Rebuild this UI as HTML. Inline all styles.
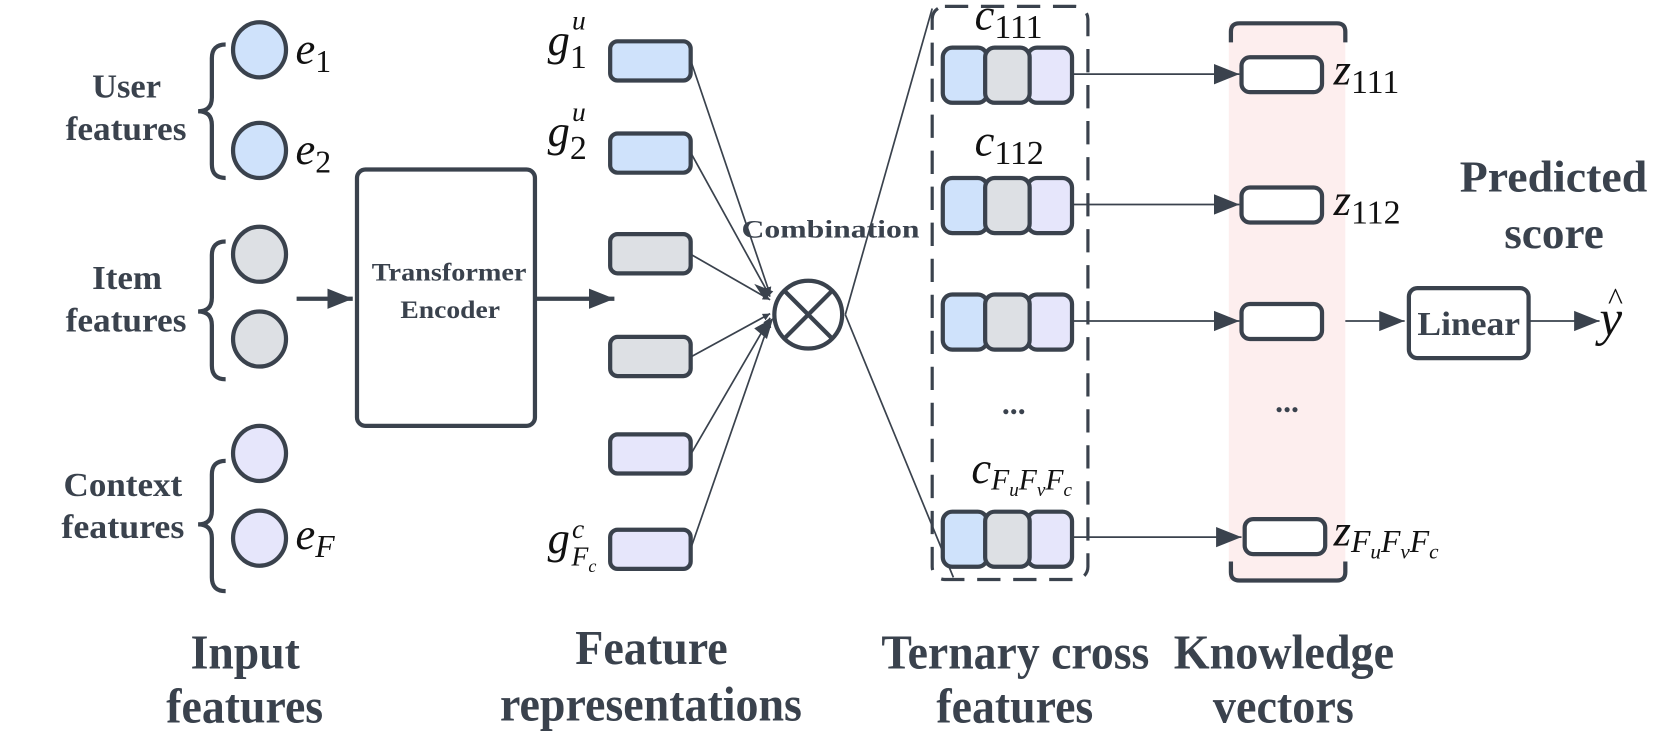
<!DOCTYPE html>
<html><head><meta charset="utf-8"><style>
html,body{margin:0;padding:0;background:#fff;}
svg{display:block;}
.t{font-family:"Liberation Serif",serif;font-weight:bold;fill:#3a424d;}
.m{font-family:"Liberation Serif",serif;font-style:italic;fill:#111;}
.s{font-family:"Liberation Serif",serif;fill:#111;}
</style></head><body>
<svg width="1661" height="749" viewBox="0 0 1568 707" preserveAspectRatio="none" xmlns="http://www.w3.org/2000/svg">
<defs>
<marker id="a" viewBox="0 0 10 10" refX="10" refY="5" markerWidth="7" markerHeight="7" markerUnits="userSpaceOnUse" orient="auto"><path d="M0,0L10,5L0,10z" fill="#3a424d"/></marker>
<marker id="b" viewBox="0 0 10 10" refX="10" refY="5" markerWidth="24" markerHeight="24" markerUnits="userSpaceOnUse" orient="auto"><path d="M0,1L10,5L0,9z" fill="#3a424d"/></marker>
</defs>
<g stroke="#3a424d" stroke-width="4" fill="none">
<rect x="1160" y="22" width="110" height="526" fill="#fdeeee" stroke="none"/>
<path d="M1162,40V30q0,-8 8,-8H1262q8,0 8,8V40"/>
<path d="M1162,530V540q0,8 8,8H1262q8,0 8,-8V530"/>
<ellipse cx="245" cy="47" rx="25" ry="26" fill="#cfe2fb"/>
<ellipse cx="245" cy="142" rx="25" ry="26" fill="#cfe2fb"/>
<ellipse cx="245" cy="240" rx="25" ry="26" fill="#dde0e4"/>
<ellipse cx="245" cy="320" rx="25" ry="26" fill="#dde0e4"/>
<ellipse cx="245" cy="428" rx="25" ry="26" fill="#e6e6fb"/>
<ellipse cx="245" cy="508" rx="25" ry="26" fill="#e6e6fb"/>
<path d="M213,42Q200,42 200,55V92Q200,105 187,105Q200,105 200,118V155Q200,168 213,168"/>
<path d="M213,228Q200,228 200,241V281Q200,294 187,294Q200,294 200,307V345Q200,358 213,358"/>
<path d="M213,435Q200,435 200,448V482Q200,495 187,495Q200,495 200,508V545Q200,558 213,558"/>
<rect x="337" y="160" width="168" height="242" rx="8" fill="#fff"/>
<line x1="280" y1="282" x2="333" y2="282" marker-end="url(#b)"/>
<line x1="505" y1="282" x2="580" y2="282" marker-end="url(#b)"/>
<rect x="576" y="39" width="76" height="37" rx="7" fill="#cfe2fb"/>
<rect x="576" y="126" width="76" height="37" rx="7" fill="#cfe2fb"/>
<rect x="576" y="221" width="76" height="37" rx="7" fill="#dde0e4"/>
<rect x="576" y="318" width="76" height="37" rx="7" fill="#dde0e4"/>
<rect x="576" y="410" width="76" height="37" rx="7" fill="#e6e6fb"/>
<rect x="576" y="500" width="76" height="37" rx="7" fill="#e6e6fb"/>
</g>
<g stroke="#3a424d" stroke-width="1.6" fill="none">
<line x1="652" y1="57" x2="727" y2="278" marker-end="url(#a)"/>
<line x1="652" y1="144" x2="727" y2="280" marker-end="url(#a)"/>
<line x1="652" y1="240" x2="727" y2="283" marker-end="url(#a)"/>
<line x1="652" y1="337" x2="727" y2="296" marker-end="url(#a)"/>
<line x1="652" y1="429" x2="727" y2="300" marker-end="url(#a)"/>
<line x1="652" y1="518" x2="727" y2="302" marker-end="url(#a)"/>
<line x1="798" y1="297" x2="880" y2="8"/>
<line x1="798" y1="297" x2="900" y2="545"/>
</g>
<g stroke="#3a424d" stroke-width="4" fill="none">
<polygon points="712,268 730,275 722,283" fill="#3a424d" stroke="none"/>
<polygon points="712,310 730,300 724,320" fill="#3a424d" stroke="none"/>
<circle cx="763" cy="297" r="32" fill="#fff"/>
<line x1="740" y1="274" x2="786" y2="320"/>
<line x1="786" y1="274" x2="740" y2="320"/>
<rect x="880" y="6" width="147" height="541" rx="12" stroke-dasharray="22,12" stroke-width="3"/>
</g>
<g stroke="#3a424d" stroke-width="4">
<g id="tr">
<rect x="890" y="45" width="42" height="52" rx="9" fill="#cfe2fb"/>
<rect x="970" y="45" width="42" height="52" rx="9" fill="#e6e6fb"/>
<rect x="930" y="45" width="42" height="52" rx="9" fill="#dde0e4"/>
</g>
<use href="#tr" y="123"/>
<use href="#tr" y="233"/>
<use href="#tr" y="438"/>
</g>
<g stroke="#3a424d" stroke-width="1.6">
<line x1="1012" y1="70" x2="1170" y2="70" marker-end="url(#b)"/>
<line x1="1012" y1="193" x2="1170" y2="193" marker-end="url(#b)"/>
<line x1="1012" y1="303" x2="1170" y2="303" marker-end="url(#b)"/>
<line x1="1012" y1="507" x2="1172" y2="507" marker-end="url(#b)"/>
<line x1="1270" y1="303" x2="1326" y2="303" marker-end="url(#b)"/>
<line x1="1443" y1="303" x2="1510" y2="303" marker-end="url(#b)"/>
</g>
<g stroke="#3a424d" stroke-width="4" fill="#fff">
<rect x="1172" y="54" width="76" height="33" rx="8"/>
<rect x="1172" y="177" width="76" height="33" rx="8"/>
<rect x="1172" y="287" width="76" height="33" rx="8"/>
<rect x="1175" y="490" width="76" height="33" rx="8"/>
<rect x="1330" y="272" width="113" height="66" rx="8"/>
</g>
<g class="t" font-size="32">
<text x="87" y="92" textLength="65" lengthAdjust="spacingAndGlyphs">User</text>
<text x="62" y="132" textLength="114" lengthAdjust="spacingAndGlyphs">features</text>
<text x="87" y="273" textLength="66" lengthAdjust="spacingAndGlyphs">Item</text>
<text x="62" y="313" textLength="114" lengthAdjust="spacingAndGlyphs">features</text>
<text x="60" y="468" textLength="112" lengthAdjust="spacingAndGlyphs">Context</text>
<text x="58" y="508" textLength="116" lengthAdjust="spacingAndGlyphs">features</text>
</g>
<g class="t" font-size="24">
<text x="351" y="265" textLength="146" lengthAdjust="spacingAndGlyphs">Transformer</text>
<text x="378" y="300" textLength="94" lengthAdjust="spacingAndGlyphs">Encoder</text>
<text x="700" y="224" textLength="168" lengthAdjust="spacingAndGlyphs">Combination</text>
</g>
<text class="t" font-size="32" x="1338" y="316" textLength="97" lengthAdjust="spacingAndGlyphs">Linear</text>
<g class="t" font-size="42">
<text x="1378" y="181" textLength="177" lengthAdjust="spacingAndGlyphs">Predicted</text>
<text x="1420" y="234" textLength="94" lengthAdjust="spacingAndGlyphs">score</text>
</g>
<g class="t" font-size="46">
<text x="180" y="631" textLength="103" lengthAdjust="spacingAndGlyphs">Input</text>
<text x="157" y="682" textLength="148" lengthAdjust="spacingAndGlyphs">features</text>
<text x="543" y="627" textLength="144" lengthAdjust="spacingAndGlyphs">Feature</text>
<text x="472" y="680" textLength="285" lengthAdjust="spacingAndGlyphs">representations</text>
<text x="832" y="631" textLength="253" lengthAdjust="spacingAndGlyphs">Ternary cross</text>
<text x="884" y="682" textLength="148" lengthAdjust="spacingAndGlyphs">features</text>
<text x="1108" y="631" textLength="208" lengthAdjust="spacingAndGlyphs">Knowledge</text>
<text x="1145" y="682" textLength="133" lengthAdjust="spacingAndGlyphs">vectors</text>
</g>
<g class="t" font-size="30" text-anchor="middle"><text x="957" y="391">...</text><text x="1215" y="389">...</text></g>
<g font-size="42">
<text class="m" x="279" y="60">e<tspan class="s" font-style="normal" font-size="30" dy="8">1</tspan></text>
<text class="m" x="279" y="155">e<tspan class="s" font-style="normal" font-size="30" dy="8">2</tspan></text>
<text class="m" x="279" y="518">e<tspan font-size="30" dy="8">F</tspan></text>
<text class="m" x="517" y="52">g<tspan font-size="26" dx="2" dy="-24">u</tspan><tspan class="s" font-style="normal" font-size="32" dx="-15" dy="36">1</tspan></text>
<text class="m" x="517" y="138">g<tspan font-size="26" dx="2" dy="-24">u</tspan><tspan class="s" font-style="normal" font-size="32" dx="-15" dy="36">2</tspan></text>
<text class="m" x="517" y="522">g<tspan font-size="26" dx="2" dy="-14">c</tspan><tspan font-size="26" dx="-12" dy="26">F</tspan><tspan font-size="17" dy="6">c</tspan></text>
<text class="m" x="920" y="28">c<tspan class="s" font-style="normal" font-size="32" dy="8">111</tspan></text>
<text class="m" x="920" y="147">c<tspan class="s" font-style="normal" font-size="32" dy="8">112</tspan></text>
<text class="m" x="917" y="456">c<tspan font-size="28" dy="6">F</tspan><tspan font-size="18" dy="6">u</tspan><tspan font-size="28" dy="-6">F</tspan><tspan font-size="18" dy="6">v</tspan><tspan font-size="28" dy="-6">F</tspan><tspan font-size="18" dy="6">c</tspan></text>
<text class="m" x="1259" y="80">z<tspan class="s" font-style="normal" font-size="32" dy="8">111</tspan></text>
<text class="m" x="1259" y="203">z<tspan class="s" font-style="normal" font-size="32" dy="8">112</tspan></text>
<text class="m" x="1259" y="515">z<tspan font-size="30" dy="6">F</tspan><tspan font-size="20" dy="6">u</tspan><tspan font-size="30" dy="-6">F</tspan><tspan font-size="20" dy="6">v</tspan><tspan font-size="30" dy="-6">F</tspan><tspan font-size="20" dy="6">c</tspan></text>
<text class="m" x="1510" y="316" font-size="48">y</text>
<text class="s" x="1518" y="292" font-size="30">^</text>
</g>
</svg>
</body></html>
